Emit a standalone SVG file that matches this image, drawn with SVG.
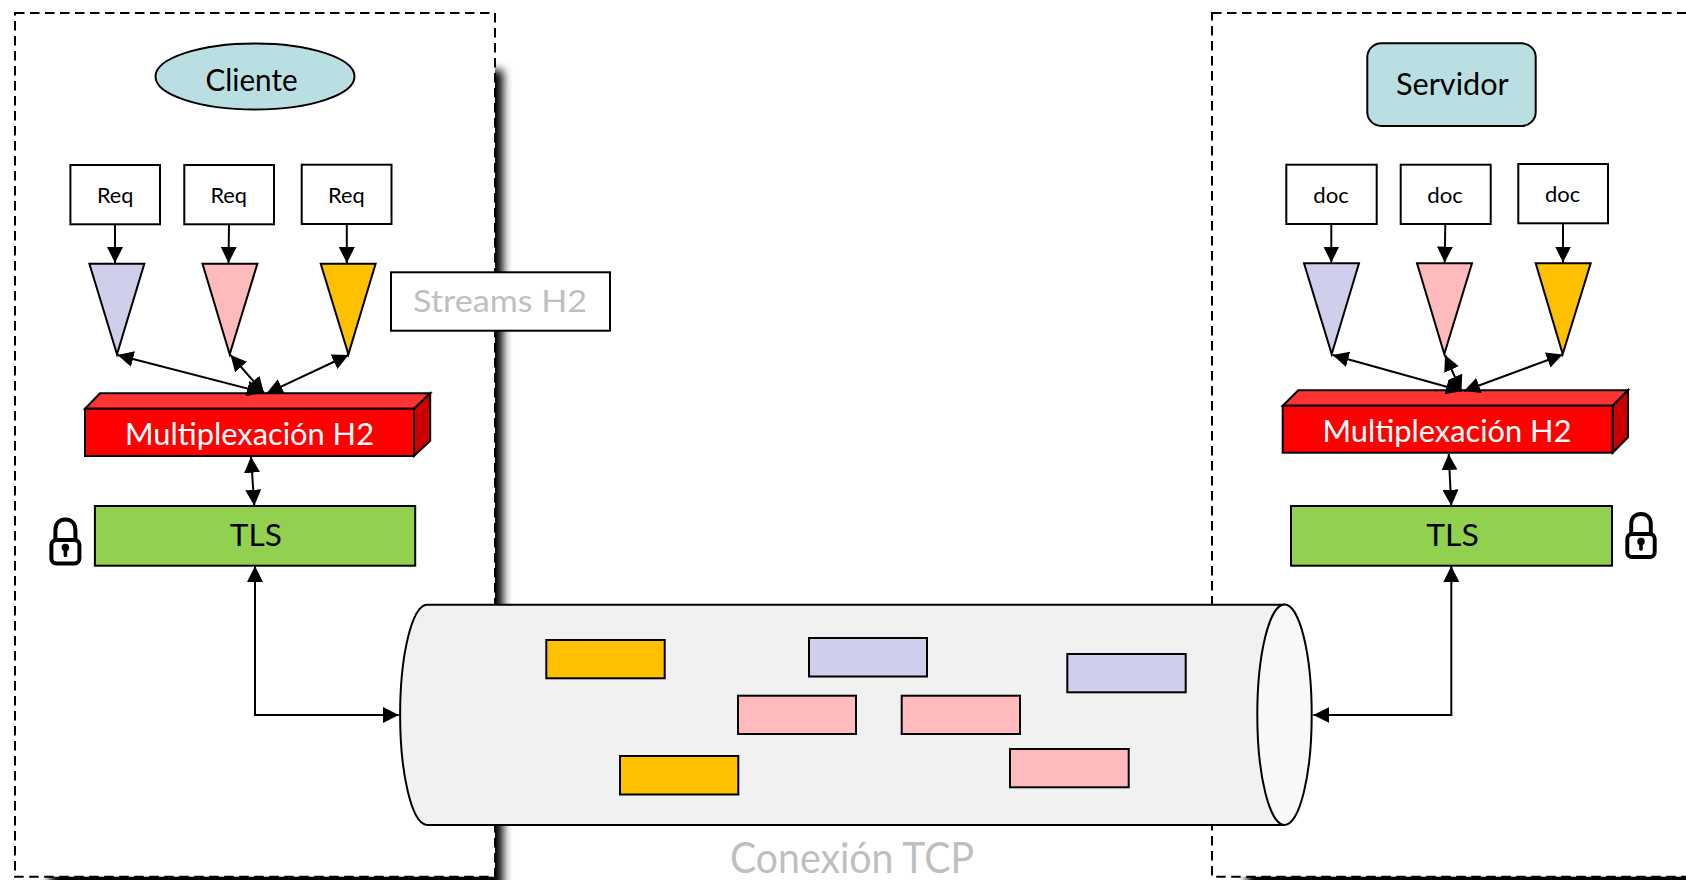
<svg xmlns="http://www.w3.org/2000/svg" width="1686" height="880" viewBox="0 0 1686 880">
<defs>
<filter id="blur" x="-10%" y="-10%" width="120%" height="120%"><feGaussianBlur stdDeviation="5"/></filter>
<marker id="ah" markerUnits="userSpaceOnUse" markerWidth="16" markerHeight="16" refX="16" refY="8" orient="auto-start-reverse"><path d="M0 0L16 8L0 16z" fill="#000"/></marker>
<symbol id="lock" viewBox="0 0 32 48" overflow="visible">
<path d="M6 23V12.5C6 6 10 2 16 2S26 6 26 12.5V23" fill="none" stroke="#000" stroke-width="4"/>
<rect x="2" y="22.500" width="28" height="23.500" rx="5" fill="#fff" stroke="#000" stroke-width="4"/>
<circle cx="16" cy="30" r="3.800" fill="#000"/><rect x="14.200" y="30" width="3.600" height="9.500" rx="1.500" fill="#000"/>
</symbol>
</defs>
<style>
text{font-family:"Lato","Noto Sans",sans-serif;fill:#000}
.s{stroke:#000;stroke-width:2}
.dash{fill:#fff;stroke:#000;stroke-width:2;stroke-dasharray:9.500 5.500}
.c{fill:none;stroke:#000;stroke-width:2;marker-end:url(#ah)}
.b{fill:none;stroke:#000;stroke-width:2;marker-start:url(#ah);marker-end:url(#ah)}
.blue{fill:#CFCFEC}.pink{fill:#FFBBBB}.orange{fill:#FFC000}
.w{fill:#fff}.grey{fill:#BFBFBF}.tealf{fill:#B9DFE2}
.t22{font-size:22px}.t30{font-size:30px}
</style>
<g id="client-zone">
<rect x="50" y="70" width="453" height="840" fill="#000" filter="url(#blur)"/>
<rect class="dash" x="15" y="13" width="480" height="863.700"/>
</g>
<g id="server-zone">
<rect x="1247" y="70" width="500" height="840" fill="#000" filter="url(#blur)"/>
<rect class="dash" x="1212" y="13" width="520" height="863.700"/>
</g>
<g id="tube">
<path class="s" fill="#F1F1F1" d="M426.500 604.700H1284.500V825H426.500A27.200 110.200 0 0 1 426.500 604.700Z"/>
<ellipse class="s" fill="#F8F8F8" cx="1284.500" cy="714.700" rx="27.200" ry="110.200"/>
</g>
<g id="packets">
<rect class="s orange" x="546.300" y="640" width="118.400" height="38.300"/>
<rect class="s blue" x="809" y="638" width="118" height="38.500"/>
<rect class="s pink" x="738" y="695.700" width="118" height="38.300"/>
<rect class="s orange" x="620" y="756" width="118.300" height="38.500"/>
<rect class="s pink" x="901.700" y="695.700" width="118.300" height="38.300"/>
<rect class="s blue" x="1067.300" y="654" width="118.400" height="38.300"/>
<rect class="s pink" x="1010" y="749" width="118.700" height="38.300"/>
</g>
<g id="cliente"><ellipse class="s tealf" cx="255" cy="76.500" rx="99.500" ry="33"/><text class="t30" x="205.600" y="91" textLength="92" lengthAdjust="spacingAndGlyphs">Cliente</text></g>
<g id="req1"><rect class="s w" x="70.400" y="165" width="89.600" height="59.300"/><text class="t22" x="96.900" y="202.700" textLength="36.400" lengthAdjust="spacingAndGlyphs">Req</text></g>
<g id="req2"><rect class="s w" x="184.300" y="165" width="89.700" height="59.300"/><text class="t22" x="210.400" y="202.700" textLength="36.600" lengthAdjust="spacingAndGlyphs">Req</text></g>
<g id="req3"><rect class="s w" x="301.700" y="164.700" width="89.800" height="59.300"/><text class="t22" x="328" y="202.700" textLength="36.600" lengthAdjust="spacingAndGlyphs">Req</text></g>
<g id="stream-c1"><path class="s blue" d="M89.400 263.700H144.300L117 354.300Z"/></g>
<g id="stream-c2"><path class="s pink" d="M202.500 263.700H257.400L229.700 354.300Z"/></g>
<g id="stream-c3"><path class="s orange" d="M320.700 263.700H375.600L348.400 354.300Z"/></g>
<g id="streams-label"><rect class="s w" x="391" y="272.300" width="219" height="58.400"/><text class="grey" style="font-size:31px" x="413" y="311.700" textLength="174" lengthAdjust="spacingAndGlyphs">Streams H2</text></g>
<g id="mux-client">
<path class="s" fill="#FF3333" d="M85 408.700L100 393.300H430.200L414 408.700Z"/>
<path class="s" fill="#CC0000" d="M414 408.700L430.200 393.300V440.700L414 456Z"/>
<rect class="s" fill="#FF0000" x="85" y="408.700" width="329" height="47.300"/>
<text class="t30" style="fill:#fff" x="125" y="444.500" textLength="249" lengthAdjust="spacingAndGlyphs">Multiplexación H2</text>
</g>
<g id="tls-client"><rect class="s" fill="#92D050" x="94.900" y="506" width="320.300" height="59.700"/><text class="t30" x="229.800" y="546" textLength="52" lengthAdjust="spacingAndGlyphs">TLS</text></g>
<g id="lock-client"><use href="#lock" x="49.400" y="517.500" width="32" height="48"/></g>
<g id="servidor"><rect class="s tealf" x="1367.300" y="43.300" width="168.400" height="82.700" rx="14"/><text class="t30" x="1396" y="95" textLength="112.700" lengthAdjust="spacingAndGlyphs">Servidor</text></g>
<g id="doc1"><rect class="s w" x="1286.300" y="164.700" width="90.400" height="59.300"/><text class="t22" x="1313.300" y="202.700" textLength="35.700" lengthAdjust="spacingAndGlyphs">doc</text></g>
<g id="doc2"><rect class="s w" x="1400.700" y="164.700" width="90" height="59.300"/><text class="t22" x="1427.300" y="202.700" textLength="35.700" lengthAdjust="spacingAndGlyphs">doc</text></g>
<g id="doc3"><rect class="s w" x="1518.300" y="164" width="89.700" height="59.300"/><text class="t22" x="1545" y="201.700" textLength="35.300" lengthAdjust="spacingAndGlyphs">doc</text></g>
<g id="stream-s1"><path class="s blue" d="M1304 263.300H1359L1331.700 354Z"/></g>
<g id="stream-s2"><path class="s pink" d="M1417 263.300H1472L1444.300 354Z"/></g>
<g id="stream-s3"><path class="s orange" d="M1535.700 263.300H1590.700L1562.700 354Z"/></g>
<g id="mux-server">
<path class="s" fill="#FF3333" d="M1282.700 405.700L1298.300 390.300H1628L1612.700 405.700Z"/>
<path class="s" fill="#CC0000" d="M1612.700 405.700L1628 390.300V437.300L1612.700 452.700Z"/>
<rect class="s" fill="#FF0000" x="1282.700" y="405.700" width="330" height="47"/>
<text class="t30" style="fill:#fff" x="1322.500" y="442" textLength="249" lengthAdjust="spacingAndGlyphs">Multiplexación H2</text>
</g>
<g id="tls-server"><rect class="s" fill="#92D050" x="1291" y="506" width="321" height="59.700"/><text class="t30" x="1426.200" y="546" textLength="52.600" lengthAdjust="spacingAndGlyphs">TLS</text></g>
<g id="lock-server"><use href="#lock" x="1625" y="512" width="32" height="47"/></g>
<g id="tcp-label"><text class="grey" style="font-size:42px" x="730" y="873" textLength="244" lengthAdjust="spacingAndGlyphs">Conexión TCP</text></g>
<g id="connectors">
<path class="c" d="M115 224.300V263"/>
<path class="c" d="M229 224.300L228.500 263"/>
<path class="c" d="M346.800 224V263"/>
<path class="b" d="M117.500 355L263 392.500"/>
<path class="b" d="M230.500 355L264 393"/>
<path class="b" d="M348.500 355L266.700 393.300"/>
<path class="b" d="M251 456.700L254.300 505.700"/>
<path class="b" d="M255 566V715H398.800"/>
<path class="c" d="M1331.300 224V262.500"/>
<path class="c" d="M1445.300 224L1444.700 262.500"/>
<path class="c" d="M1563 223.300V262.500"/>
<path class="b" d="M1332.700 355L1462 391"/>
<path class="b" d="M1445 355L1461.500 391.500"/>
<path class="b" d="M1562.700 354.500L1464 391"/>
<path class="b" d="M1448.700 454L1451.300 505.700"/>
<path class="b" d="M1451.300 566V715H1313.300"/>
</g>
</svg>
